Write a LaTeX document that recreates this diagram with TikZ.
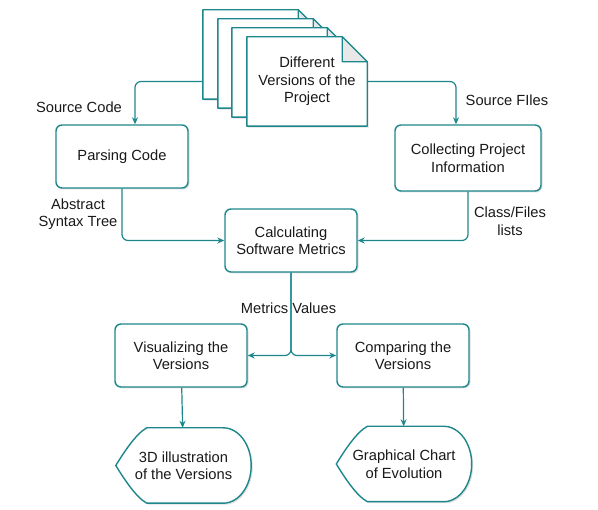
\documentclass[tikz,border=0pt]{standalone}
\usepackage{fontspec}
\setmainfont{Liberation Sans}
\usetikzlibrary{arrows.meta,shadows,backgrounds}
\definecolor{canard}{RGB}{30,135,140}
\definecolor{pli}{RGB}{232,232,232}

\tikzset{
  boite/.style={draw=canard, line width=1.4pt, rounded corners=6pt, fill=white,
    minimum width=132pt, minimum height=63pt, align=center, text=black!90,
    drop shadow={shadow xshift=1.5pt, shadow yshift=-1.5pt, opacity=0.25}},
  feuille/.style={draw=canard, line width=1.4pt, fill=white, line join=round,
    drop shadow={shadow xshift=1.5pt, shadow yshift=-1.5pt, opacity=0.25}},
  page/.style={minimum width=120pt, minimum height=89pt, inner sep=0pt},
  ecran/.style={minimum width=135pt, minimum height=75pt, inner sep=0pt, align=center, text=black!90},
  fleche/.style={draw=canard, line width=1.2pt, ->, >={Stealth[length=7pt,width=6pt]}, rounded corners=6pt},
  etiq/.style={align=center, text=black!90}
}

\begin{document}
\begin{tikzpicture}[x=1pt,y=-1pt,font=\fontsize{14.7}{17.5}\selectfont]
\useasboundingbox (0,0) rectangle (598,510);
% pile of versions
\foreach \i/\dx/\dy in {1/0/0,2/15/9,3/29/18,4/44/27}{
  \node[page] (pg\i) at (263+\dx,54.5+\dy) {};
  \draw[feuille] (pg\i.south west) -- (pg\i.north west) -- ([xshift=-25pt]pg\i.north east)
    -- ([yshift=-25pt]pg\i.north east) -- (pg\i.south east) -- cycle;
  \draw[draw=canard, line width=1.2pt, fill=pli, line join=round] ([xshift=-25pt]pg\i.north east)
    -- ([xshift=-25pt,yshift=-25pt]pg\i.north east) -- ([yshift=-25pt]pg\i.north east) -- cycle;
}
\node[etiq] (docs) at (pg4.center) {Different\\Versions of the\\Project};

% boxes
\node[boite] (parse) at (122,156.5) {Parsing Code};
\node[boite, minimum width=146pt, minimum height=66pt] (collect) at (468,158) {Collecting Project\\Information};
\node[boite] (calc) at (291,240.5) {Calculating\\Software Metrics};
\node[boite] (vis) at (181,355.5) {Visualizing the\\Versions};
\node[boite] (comp) at (403,355.5) {Comparing the\\Versions};

% outputs
\node[ecran] (illus) at (183.5,465.5) {3D illustration\\of the Versions};
\node[ecran] (graph) at (404,464) {Graphical Chart\\of Evolution};
\begin{scope}[on background layer]
\foreach \n in {illus,graph}
  \draw[feuille] (\n.west)
    .. controls ([xshift=8pt,yshift=13pt]\n.west) and ([xshift=20pt,yshift=-6pt]\n.north west) .. ([xshift=31pt]\n.north west)
    -- ([xshift=-28pt]\n.north east)
    .. controls ([xshift=-12.5pt]\n.north east) and ([yshift=-17pt]\n.north east) .. (\n.east)
    .. controls ([yshift=17pt]\n.south east) and ([xshift=-12.5pt]\n.south east) .. ([xshift=-28pt]\n.south east)
    -- ([xshift=31pt]\n.south west)
    .. controls ([xshift=20pt,yshift=6pt]\n.south west) and ([xshift=8pt,yshift=-13pt]\n.west) .. (\n.west) -- cycle;
\end{scope}

% connectors
\draw[fleche] (pg1.west |- pg4.west) -| ([xshift=13pt]parse.north);
\draw[fleche] (pg4.east) -| ([xshift=-12pt]collect.north);
\draw[fleche] (parse.south) |- (calc.west);
\draw[fleche] (collect.south) |- (calc.east);
\draw[fleche] (calc.south) |- (vis.east);
\draw[fleche] (calc.south) |- (comp.west);
\draw[fleche] (vis) -- (illus);
\draw[fleche] (comp) -- (graph);

% labels
\node[etiq] (lsrc) at (79,107) {Source Code};
\node[etiq] (lfiles) at (507,100) {Source FIles};
\node[etiq] (last) at (78,214) {Abstract\\Syntax Tree};
\node[etiq] (llist) at (510,221) {Class/Files\\lists};
\node[etiq] (lmet) at (288.5,308) {Metrics Values};
\end{tikzpicture}
\end{document}
